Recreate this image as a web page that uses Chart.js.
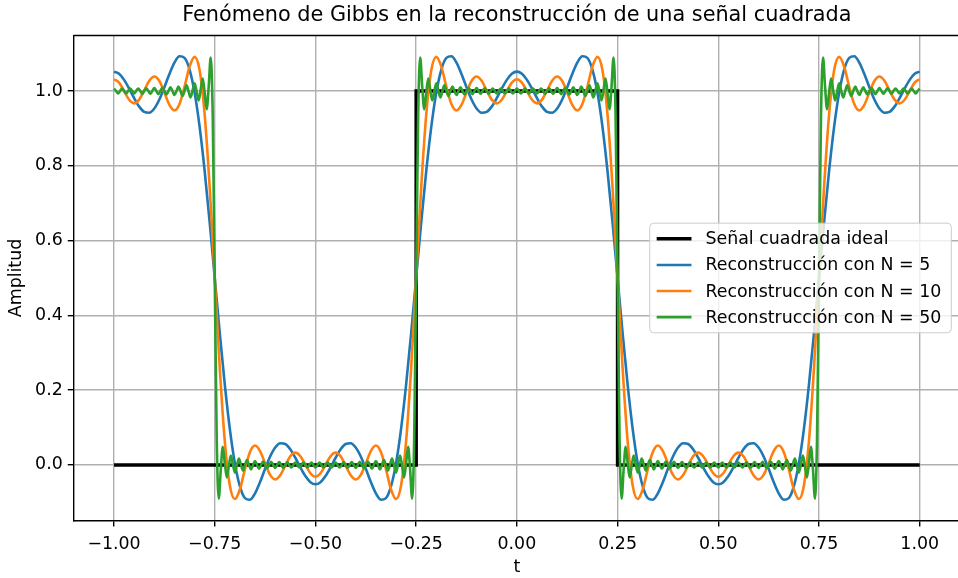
<!DOCTYPE html>
<html lang="es">
<head>
<meta charset="UTF-8">
<title>Fenómeno de Gibbs</title>
<style>
  html, body { margin: 0; padding: 0; background: #fff; overflow: hidden; }
  #wrap { width: 960px; height: 578px; }
</style>
</head>
<body>
<div id="wrap"><canvas id="gibbs" width="960" height="578"></canvas></div>
<script src="https://cdn.jsdelivr.net/npm/chart.js"></script>
<script>
// every reconstruction is sampled evenly from the first to the last t
const tRange = [-1, 1];

const xTicks = [-1, -0.75, -0.5, -0.25, 0, 0.25, 0.5, 0.75, 1];
const yTicks = [0, 0.2, 0.4, 0.6, 0.8, 1.0];

const seriesLabels = [
  'Señal cuadrada ideal',
  'Reconstrucción con N = 5',
  'Reconstrucción con N = 10',
  'Reconstrucción con N = 50'
];

// ideal square pulse
const idealT = [-1, -0.25, -0.25, 0.25, 0.25, 1];
const idealY = [0, 0, 1, 1, 0, 0];

// N = 5, 161 samples
const recon5 = [
  1.0517, 1.046, 1.0297, 1.0064, 0.9807, 0.9582, 0.944, 0.9418, 0.9533, 0.9773, 1.0102, 1.0457, 1.076, 1.0929, 1.0886, 1.0573, 0.9957, 0.9041, 0.786, 0.6482, 0.5, 0.3518, 0.214, 0.0959, 0.0043, -0.0573, -0.0886, -0.0929, -0.076, -0.0457, -0.0102, 0.0227, 0.0467, 0.0582, 0.056, 0.0418, 0.0193, -0.0064, -0.0297, -0.046, -0.0517,
  -0.046, -0.0297, -0.0064, 0.0193, 0.0418, 0.056, 0.0582, 0.0467, 0.0227, -0.0102, -0.0457, -0.076, -0.0929, -0.0886, -0.0573, 0.0043, 0.0959, 0.214, 0.3518, 0.5, 0.6482, 0.786, 0.9041, 0.9957, 1.0573, 1.0886, 1.0929, 1.076, 1.0457, 1.0102, 0.9773, 0.9533, 0.9418, 0.944, 0.9582, 0.9807, 1.0064, 1.0297, 1.046, 1.0517,
  1.046, 1.0297, 1.0064, 0.9807, 0.9582, 0.944, 0.9418, 0.9533, 0.9773, 1.0102, 1.0457, 1.076, 1.0929, 1.0886, 1.0573, 0.9957, 0.9041, 0.786, 0.6482, 0.5, 0.3518, 0.214, 0.0959, 0.0043, -0.0573, -0.0886, -0.0929, -0.076, -0.0457, -0.0102, 0.0227, 0.0467, 0.0582, 0.056, 0.0418, 0.0193, -0.0064, -0.0297, -0.046, -0.0517,
  -0.046, -0.0297, -0.0064, 0.0193, 0.0418, 0.056, 0.0582, 0.0467, 0.0227, -0.0102, -0.0457, -0.076, -0.0929, -0.0886, -0.0573, 0.0043, 0.0959, 0.214, 0.3518, 0.5, 0.6482, 0.786, 0.9041, 0.9957, 1.0573, 1.0886, 1.0929, 1.076, 1.0457, 1.0102, 0.9773, 0.9533, 0.9418, 0.944, 0.9582, 0.9807, 1.0064, 1.0297, 1.046, 1.0517
];

// N = 10, 161 samples
const recon10 = [
  1.0315, 1.0222, 0.9995, 0.9766, 0.9669, 0.9769, 1.0017, 1.0275, 1.0386, 1.0266, 0.9959, 0.9628, 0.9479, 0.9651, 1.0114, 1.065, 1.0912, 1.0551, 0.9369, 0.7417, 0.5, 0.2583, 0.0631, -0.0551, -0.0912, -0.065, -0.0114, 0.0349, 0.0521, 0.0372, 0.0041, -0.0266, -0.0386, -0.0275, -0.0017, 0.0231, 0.0331, 0.0234, 0.0005, -0.0222, -0.0315,
  -0.0222, 0.0005, 0.0234, 0.0331, 0.0231, -0.0017, -0.0275, -0.0386, -0.0266, 0.0041, 0.0372, 0.0521, 0.0349, -0.0114, -0.065, -0.0912, -0.0551, 0.0631, 0.2583, 0.5, 0.7417, 0.9369, 1.0551, 1.0912, 1.065, 1.0114, 0.9651, 0.9479, 0.9628, 0.9959, 1.0266, 1.0386, 1.0275, 1.0017, 0.9769, 0.9669, 0.9766, 0.9995, 1.0222, 1.0315,
  1.0222, 0.9995, 0.9766, 0.9669, 0.9769, 1.0017, 1.0275, 1.0386, 1.0266, 0.9959, 0.9628, 0.9479, 0.9651, 1.0114, 1.065, 1.0912, 1.0551, 0.9369, 0.7417, 0.5, 0.2583, 0.0631, -0.0551, -0.0912, -0.065, -0.0114, 0.0349, 0.0521, 0.0372, 0.0041, -0.0266, -0.0386, -0.0275, -0.0017, 0.0231, 0.0331, 0.0234, 0.0005, -0.0222, -0.0315,
  -0.0222, 0.0005, 0.0234, 0.0331, 0.0231, -0.0017, -0.0275, -0.0386, -0.0266, 0.0041, 0.0372, 0.0521, 0.0349, -0.0114, -0.065, -0.0912, -0.0551, 0.0631, 0.2583, 0.5, 0.7417, 0.9369, 1.0551, 1.0912, 1.065, 1.0114, 0.9651, 0.9479, 0.9628, 0.9959, 1.0266, 1.0386, 1.0275, 1.0017, 0.9769, 0.9669, 0.9766, 0.9995, 1.0222, 1.0315
];

// N = 50, 401 samples
const recon50 = [
  1.0064, 1, 0.9936, 1, 1.0064, 1, 0.9935, 1, 1.0066, 1, 0.9933, 1, 1.0068, 1, 0.993, 1, 1.0073, 1, 0.9925, 1, 1.0079, 1, 0.9917, 1, 1.0087, 1, 0.9907, 1, 1.01, 1, 0.9892, 1, 1.0119, 1, 0.9868, 1, 1.0149, 0.9992, 0.9828, 1.001, 1.0204, 0.9985, 0.9747, 1.0025, 1.0333, 0.9953, 0.9513, 1.012, 1.0896, 0.9363, 0.5,
  0.0637, -0.0896, -0.012, 0.0487, 0.0047, -0.0333, -0.0025, 0.0253, 0.0015, -0.0204, -0.001, 0.0172, 0.0008, -0.0149, 0, 0.0132, 0, -0.0119, 0, 0.0108, 0, -0.01, 0, 0.0093, 0, -0.0087, 0, 0.0083, 0, -0.0079, 0, 0.0075, 0, -0.0073, 0, 0.007, 0, -0.0068, 0, 0.0067, 0, -0.0066, 0, 0.0065, 0, -0.0064, 0, 0.0064, 0, -0.0064,
  0, 0.0064, 0, -0.0064, 0, 0.0065, 0, -0.0066, 0, 0.0067, 0, -0.0068, 0, 0.007, 0, -0.0073, 0, 0.0075, 0, -0.0079, 0, 0.0083, 0, -0.0087, 0, 0.0093, 0, -0.01, 0, 0.0108, 0, -0.0119, 0, 0.0132, 0, -0.0149, 0.0008, 0.0172, -0.001, -0.0204, 0.0015, 0.0253, -0.0025, -0.0333, 0.0047, 0.0487, -0.012, -0.0896, 0.0637, 0.5,
  0.9363, 1.0896, 1.012, 0.9513, 0.9953, 1.0333, 1.0025, 0.9747, 0.9985, 1.0204, 1.001, 0.9828, 0.9992, 1.0149, 1, 0.9868, 1, 1.0119, 1, 0.9892, 1, 1.01, 1, 0.9907, 1, 1.0087, 1, 0.9917, 1, 1.0079, 1, 0.9925, 1, 1.0073, 1, 0.993, 1, 1.0068, 1, 0.9933, 1, 1.0066, 1, 0.9935, 1, 1.0064, 1, 0.9936, 1, 1.0064,
  1, 0.9936, 1, 1.0064, 1, 0.9935, 1, 1.0066, 1, 0.9933, 1, 1.0068, 1, 0.993, 1, 1.0073, 1, 0.9925, 1, 1.0079, 1, 0.9917, 1, 1.0087, 1, 0.9907, 1, 1.01, 1, 0.9892, 1, 1.0119, 1, 0.9868, 1, 1.0149, 0.9992, 0.9828, 1.001, 1.0204, 0.9985, 0.9747, 1.0025, 1.0333, 0.9953, 0.9513, 1.012, 1.0896, 0.9363, 0.5,
  0.0637, -0.0896, -0.012, 0.0487, 0.0047, -0.0333, -0.0025, 0.0253, 0.0015, -0.0204, -0.001, 0.0172, 0.0008, -0.0149, 0, 0.0132, 0, -0.0119, 0, 0.0108, 0, -0.01, 0, 0.0093, 0, -0.0087, 0, 0.0083, 0, -0.0079, 0, 0.0075, 0, -0.0073, 0, 0.007, 0, -0.0068, 0, 0.0067, 0, -0.0066, 0, 0.0065, 0, -0.0064, 0, 0.0064, 0, -0.0064,
  0, 0.0064, 0, -0.0064, 0, 0.0065, 0, -0.0066, 0, 0.0067, 0, -0.0068, 0, 0.007, 0, -0.0073, 0, 0.0075, 0, -0.0079, 0, 0.0083, 0, -0.0087, 0, 0.0093, 0, -0.01, 0, 0.0108, 0, -0.0119, 0, 0.0132, 0, -0.0149, 0.0008, 0.0172, -0.001, -0.0204, 0.0015, 0.0253, -0.0025, -0.0333, 0.0047, 0.0487, -0.012, -0.0896, 0.0637, 0.5,
  0.9363, 1.0896, 1.012, 0.9513, 0.9953, 1.0333, 1.0025, 0.9747, 0.9985, 1.0204, 1.001, 0.9828, 0.9992, 1.0149, 1, 0.9868, 1, 1.0119, 1, 0.9892, 1, 1.01, 1, 0.9907, 1, 1.0087, 1, 0.9917, 1, 1.0079, 1, 0.9925, 1, 1.0073, 1, 0.993, 1, 1.0068, 1, 0.9933, 1, 1.0066, 1, 0.9935, 1, 1.0064, 1, 0.9936, 1, 1.0064
];

const FS = 17.4; // matplotlib 10pt at this figure's dpi

// pair evenly spaced samples with their t
function withT(values) {
  const step = (tRange[1] - tRange[0]) / (values.length - 1);
  return values.map((y, i) => ({ x: tRange[0] + i * step, y: y }));
}

// top spine (the right one falls just outside the picture)
const frame = {
  id: 'frame',
  afterDatasetsDraw(chart) {
    const { ctx, chartArea: a } = chart;
    ctx.save();
    ctx.strokeStyle = '#000';
    ctx.lineWidth = 1.4;
    ctx.beginPath();
    ctx.moveTo(a.left, a.top);
    ctx.lineTo(a.right, a.top);
    ctx.lineTo(a.right, a.bottom);
    ctx.stroke();
    ctx.restore();
  }
};

// matplotlib-like legend, loc="center right"
const boxLegend = {
  id: 'boxLegend',
  afterDraw(chart) {
    const { ctx, chartArea: a } = chart;
    const sets = chart.data.datasets;
    const pad = 0.4 * FS, handle = 2 * FS, gap = 0.8 * FS, spacing = 0.5 * FS;
    ctx.save();
    ctx.font = FS + "px 'DejaVu Sans'";
    const textW = Math.max(...sets.map(d => ctx.measureText(d.label).width));
    const w = pad + handle + gap + textW + pad + 3;
    const h = 2 * pad + sets.length * FS + (sets.length - 1) * spacing;
    const right = a.right - 0.5 * FS;
    const left = right - w;
    const top = (a.top + a.bottom) / 2 - h / 2;

    ctx.beginPath();
    ctx.roundRect(left, top, w, h, 4);
    ctx.fillStyle = 'rgba(255,255,255,0.8)';
    ctx.fill();
    ctx.strokeStyle = '#cccccc';
    ctx.lineWidth = 1;
    ctx.stroke();

    sets.forEach((d, i) => {
      const cy = top + pad + FS / 2 + i * (FS + spacing);
      ctx.beginPath();
      ctx.moveTo(left + pad, cy);
      ctx.lineTo(left + pad + handle, cy);
      ctx.strokeStyle = d.borderColor;
      ctx.lineWidth = d.borderWidth;
      ctx.stroke();
      ctx.fillStyle = '#000';
      ctx.textAlign = 'left';
      ctx.textBaseline = 'middle';
      ctx.fillText(d.label, left + pad + handle + gap, cy + 1);
    });
    ctx.restore();
  }
};

Chart.defaults.font.family = "'DejaVu Sans', sans-serif";
Chart.defaults.color = '#000';

const curve = {
  pointRadius: 0,
  borderWidth: 2.6,
  fill: false,
  cubicInterpolationMode: 'monotone'
};

new Chart(document.getElementById('gibbs'), {
  type: 'line',
  data: {
    datasets: [
      {
        label: seriesLabels[0],
        data: idealT.map((t, i) => ({ x: t, y: idealY[i] })),
        borderColor: '#000000',
        borderWidth: 3.5,
        pointRadius: 0,
        fill: false,
        tension: 0,
        borderJoinStyle: 'miter',
        order: 3
      },
      Object.assign({ label: seriesLabels[1], data: withT(recon5), borderColor: '#1f77b4', order: 2 }, curve),
      Object.assign({ label: seriesLabels[2], data: withT(recon10), borderColor: '#ff7f0e', order: 1 }, curve),
      Object.assign({ label: seriesLabels[3], data: withT(recon50), borderColor: '#2ca02c', order: 0 }, curve)
    ]
  },
  options: {
    responsive: false,
    devicePixelRatio: 1,
    animation: false,
    layout: { padding: 0 },
    plugins: {
      legend: { display: false },
      tooltip: { enabled: false },
      title: {
        display: true,
        text: 'Fenómeno de Gibbs en la reconstrucción de una señal cuadrada',
        font: { size: 20.8, weight: 'normal' },
        color: '#000',
        fullSize: false,
        padding: { top: 3, bottom: 7.5 }
      }
    },
    scales: {
      x: {
        type: 'linear',
        min: -1.1,
        max: 1.1,
        afterBuildTicks: s => { s.ticks = xTicks.map(v => ({ value: v })); },
        afterFit: s => { s.height = 57.5; },
        ticks: {
          font: { size: FS },
          padding: 8,
          maxRotation: 0,
          callback: v => (v < 0 ? '\u2212' : '') + Math.abs(v).toFixed(2)
        },
        grid: { color: '#b0b0b0', lineWidth: 1.4, tickColor: '#000', tickLength: 6, tickWidth: 1.4 },
        border: { display: true, color: '#000', width: 1.4 },
        title: { display: true, text: 't', font: { size: FS }, padding: { top: 0, bottom: 0 } }
      },
      y: {
        type: 'linear',
        min: -0.1485,
        max: 1.1485,
        afterBuildTicks: s => { s.ticks = yTicks.map(v => ({ value: v })); },
        afterFit: s => { s.width = 73.75; },
        ticks: {
          font: { size: FS },
          padding: 5,
          callback: v => v.toFixed(1)
        },
        grid: { color: '#b0b0b0', lineWidth: 1.4, tickColor: '#000', tickLength: 6, tickWidth: 1.4 },
        border: { display: true, color: '#000', width: 1.4 },
        title: { display: true, text: 'Amplitud', font: { size: FS }, padding: { top: 6, bottom: 0 } }
      }
    }
  },
  plugins: [frame, boxLegend]
});
</script>
</body>
</html>
